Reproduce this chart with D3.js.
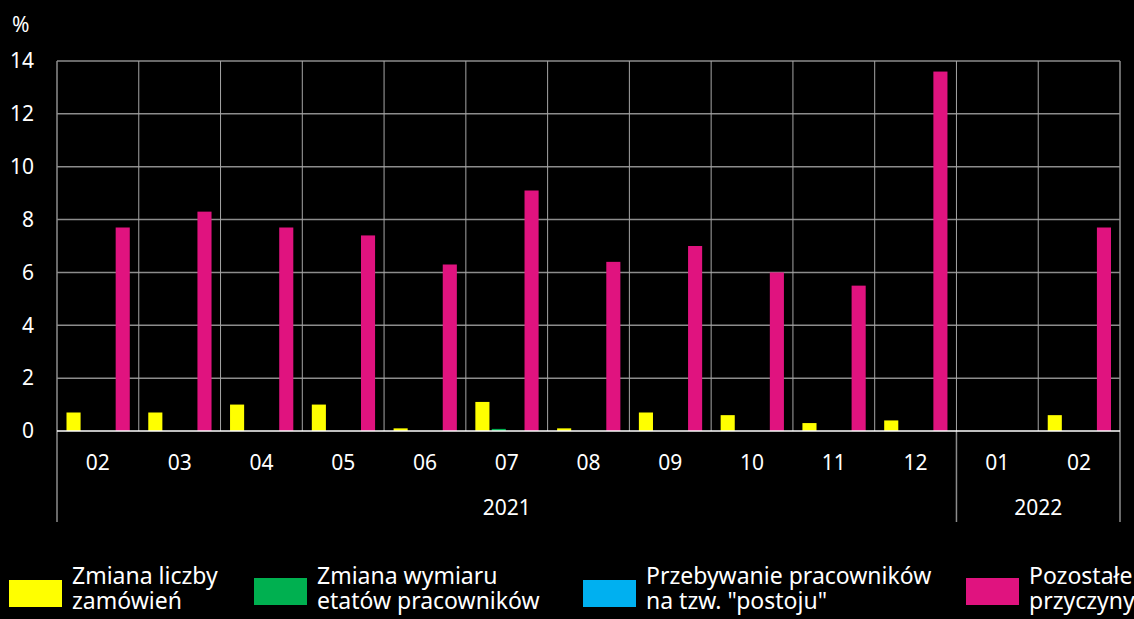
<!DOCTYPE html>
<html>
<head>
<meta charset="utf-8">
<script src="https://cdn.jsdelivr.net/npm/d3@7"></script>
<style>
  body { margin: 0; background: #000; }
  svg { display: block; }
  text { font-family: "Noto Sans", sans-serif; fill: #fff; }
</style>
</head>
<body>
<div id="viz"></div>
<script>
var months = ['02', '03', '04', '05', '06', '07', '08', '09', '10', '11', '12', '01', '02'],
    years = [{ label: '2021', from: 0, to: 11 }, { label: '2022', from: 11, to: 13 }],
    seriesNames = ['Zmiana liczby|zamówień', 'Zmiana wymiaru|etatów pracowników',
                   'Przebywanie pracowników|na tzw. "postoju"', 'Pozostałe|przyczyny'],
    seriesColors = ['#ffff00', '#00b050', '#00b0f0', '#e0137f'],
    zamowienia = [0.7, 0.7, 1.0, 1.0, 0.1, 1.1, 0.1, 0.7, 0.6, 0.3, 0.4, 0, 0.6],
    etaty = [0, 0, 0, 0, 0, 0.08, 0, 0, 0, 0, 0, 0, 0],
    postoj = [0, 0, 0, 0, 0, 0, 0, 0, 0, 0, 0, 0, 0],
    pozostale = [7.7, 8.3, 7.7, 7.4, 6.3, 9.1, 6.4, 7.0, 6.0, 5.5, 13.6, 0, 7.7],
    yTicks = [0, 2, 4, 6, 8, 10, 12, 14];

var series = [zamowienia, etaty, postoj, pozostale];

var margin = { top: 61, left: 57, right: 14 },
    W = 1134, H = 619,
    plotBottom = 431,
    axisBottom = 522;

var svg = d3.select('#viz').append('svg')
  .attr('width', W)
  .attr('height', H);

var idx = d3.range(months.length);

var x0 = d3.scaleBand()
  .domain(idx)
  .range([margin.left, W - margin.right])
  .padding(0);

var x1 = d3.scaleBand()
  .domain(d3.range(series.length))
  .range([9.5, x0.bandwidth() - 9])
  .paddingInner(0.14);

var y = d3.scaleLinear()
  .domain([0, 14])
  .range([plotBottom, margin.top]);

// horizontal grid
svg.append('g')
  .selectAll('line').data(yTicks.filter(function(d) { return d > 0; }))
  .enter().append('line')
    .attr('x1', margin.left).attr('x2', W - margin.right)
    .attr('y1', function(d) { return y(d); })
    .attr('y2', function(d) { return y(d); })
    .attr('stroke', '#8c8c8c')
    .attr('stroke-width', 1.5);

// vertical grid at category boundaries
svg.append('g')
  .selectAll('line').data(idx.slice(1))
  .enter().append('line')
    .attr('x1', function(d) { return x0(d); })
    .attr('x2', function(d) { return x0(d); })
    .attr('y1', margin.top)
    .attr('y2', plotBottom)
    .attr('stroke', '#a6a6a6')
    .attr('stroke-width', 1);

// outer lines + year separators
var sepX = [x0(0), x0(11), x0.range()[1]];
svg.append('g')
  .selectAll('line').data(sepX)
  .enter().append('line')
    .attr('x1', function(d) { return d; })
    .attr('x2', function(d) { return d; })
    .attr('y1', function(d, i) { return i === 1 ? plotBottom : margin.top; })
    .attr('y2', axisBottom)
    .attr('stroke', '#8c8c8c')
    .attr('stroke-width', 1.5);

// bars
var groups = svg.append('g')
  .selectAll('g').data(idx)
  .enter().append('g')
    .attr('transform', function(d) { return 'translate(' + x0(d) + ',0)'; });

groups.selectAll('rect')
  .data(function(i) { return series.map(function(s, k) { return { k: k, v: s[i] }; }); })
  .enter().append('rect')
    .filter(function(d) { return d.v > 0; })
    .attr('x', function(d) { return x1(d.k); })
    .attr('width', x1.bandwidth())
    .attr('y', function(d) { return y(d.v); })
    .attr('height', function(d) { return y(0) - y(d.v); })
    .attr('fill', function(d) { return seriesColors[d.k]; });

// zero line
svg.append('line')
  .attr('x1', margin.left).attr('x2', W - margin.right)
  .attr('y1', y(0)).attr('y2', y(0))
  .attr('stroke', '#fff')
  .attr('stroke-width', 1.5);

// y axis labels
var yAxis = d3.axisLeft(y).tickValues(yTicks).tickSize(0).tickPadding(0);
var yG = svg.append('g')
  .attr('transform', 'translate(34,0)')
  .call(yAxis);
yG.select('.domain').remove();
yG.selectAll('text')
  .attr('fill', '#fff')
  .style('font-size', '21px')
  .style('font-family', '"Noto Sans", sans-serif');

svg.append('text')
  .attr('x', 12).attr('y', 32)
  .style('font-size', '21px')
  .text('%');

// month labels
svg.append('g')
  .selectAll('text').data(idx)
  .enter().append('text')
    .attr('x', function(d) { return x0(d) + x0.bandwidth() / 2; })
    .attr('y', 470)
    .attr('text-anchor', 'middle')
    .style('font-size', '21px')
    .text(function(d) { return months[d]; });

// year labels
svg.append('g')
  .selectAll('text').data(years)
  .enter().append('text')
    .attr('x', function(d) { return (x0(d.from) + (d.to < months.length ? x0(d.to) : x0.range()[1])) / 2; })
    .attr('y', 515)
    .attr('text-anchor', 'middle')
    .style('font-size', '21px')
    .text(function(d) { return d.label; });

// legend
var legendX = [9, 254, 583, 966];
var legend = svg.append('g')
  .selectAll('g').data(seriesNames)
  .enter().append('g')
    .attr('transform', function(d, i) { return 'translate(' + legendX[i] + ',0)'; });

legend.append('rect')
  .attr('x', 0).attr('y', function(d, i) { return i % 2 ? 578 : 580; })
  .attr('width', 53).attr('height', 27)
  .attr('fill', function(d, i) { return seriesColors[i]; });

legend.each(function(d) {
  var g = d3.select(this);
  d.split('|').forEach(function(line, j) {
    g.append('text')
      .attr('x', 63)
      .attr('y', 584 + j * 25)
      .style('font-size', '23px')
      .text(line);
  });
});
</script>
</body>
</html>
